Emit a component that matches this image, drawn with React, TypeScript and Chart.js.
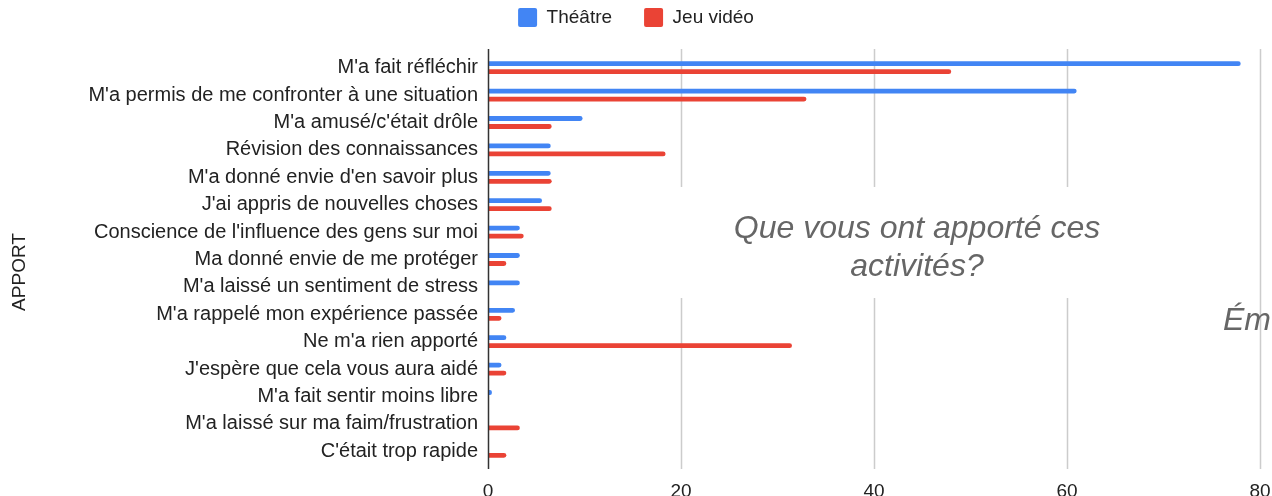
import React, { useEffect, useRef } from "react";
import { Chart, registerables } from "chart.js";

Chart.register(...registerables);

const categories = [
  "M'a fait réfléchir",
  "M'a permis de me confronter à une situation",
  "M'a amusé/c'était drôle",
  "Révision des connaissances",
  "M'a donné envie d'en savoir plus",
  "J'ai appris de nouvelles choses",
  "Conscience de l'influence des gens sur moi",
  "Ma donné envie de me protéger",
  "M'a laissé un sentiment de stress",
  "M'a rappelé mon expérience passée",
  "Ne m'a rien apporté",
  "J'espère que cela vous aura aidé",
  "M'a fait sentir moins libre",
  "M'a laissé sur ma faim/frustration",
  "C'était trop rapide",
];

const theatreValues = [78, 61, 9.8, 6.5, 6.5, 5.6, 3.3, 3.3, 3.3, 2.8, 1.9, 1.4, 0.4, 0, 0];
const jeuVideoValues = [48, 33, 6.6, 18.4, 6.6, 6.6, 3.7, 1.9, 0, 1.4, 31.5, 1.9, 0, 3.3, 1.9];

const seriesNames = ["Théâtre", "Jeu vidéo"];
const xTickValues = [0, 20, 40, 60, 80];
const yAxisTitle = "APPORT";
const overlayTitleLines = ["Que vous ont apporté ces", "activités?"];
const clippedTitle = "Émotions ressenties";

const FONT = "'Liberation Sans', Arial, Helvetica, sans-serif";
const TEXT = "#222222";

const decorPlugin = {
  id: "decor",
  beforeDatasetsDraw(chart: any) {
    const { ctx, chartArea, scales } = chart;
    const x = scales.x;
    const top = chartArea.top - 5;
    const bottom = chartArea.bottom + 4;
    ctx.save();
    ctx.strokeStyle = "#cccccc";
    ctx.lineWidth = 1.5;
    xTickValues.slice(1).forEach((v) => {
      const px = Math.round(x.getPixelForValue(v)) + 0.5;
      ctx.beginPath();
      ctx.moveTo(px, top);
      ctx.lineTo(px, bottom);
      ctx.stroke();
    });
    // white box behind the overlay title
    ctx.fillStyle = "#ffffff";
    ctx.fillRect(655, 187, 500, 111);
    ctx.restore();
  },
  afterDatasetsDraw(chart: any) {
    const { ctx, chartArea, scales } = chart;
    const x0 = Math.round(scales.x.getPixelForValue(0)) + 0.5;
    ctx.save();
    ctx.strokeStyle = "#333333";
    ctx.lineWidth = 1.5;
    ctx.beginPath();
    ctx.moveTo(x0, chartArea.top - 5);
    ctx.lineTo(x0, chartArea.bottom + 4);
    ctx.stroke();

    // y axis title
    ctx.fillStyle = TEXT;
    ctx.font = `19px ${FONT}`;
    ctx.textAlign = "center";
    ctx.textBaseline = "middle";
    ctx.translate(20, 272);
    ctx.rotate(-Math.PI / 2);
    ctx.fillText(yAxisTitle, 0, 0);
    ctx.restore();

    // overlay titles
    ctx.save();
    ctx.fillStyle = "#666666";
    ctx.font = `italic 32px ${FONT}`;
    ctx.textAlign = "center";
    ctx.textBaseline = "alphabetic";
    ctx.fillText(overlayTitleLines[0], 917, 238);
    ctx.fillText(overlayTitleLines[1], 917, 276);
    ctx.textAlign = "left";
    ctx.fillText(clippedTitle, 1223, 330);
    ctx.restore();
  },
};

export default function App() {
  const canvasRef = useRef<HTMLCanvasElement | null>(null);

  useEffect(() => {
    if (!canvasRef.current) return;
    Chart.defaults.font.family = FONT;
    const chart = new Chart(canvasRef.current, {
      type: "bar",
      data: {
        labels: categories,
        datasets: [
          {
            label: seriesNames[0],
            data: theatreValues,
            backgroundColor: "#4285f4",
            borderRadius: 3,
            categoryPercentage: 0.583,
            barPercentage: 0.6,
          },
          {
            label: seriesNames[1],
            data: jeuVideoValues,
            backgroundColor: "#ea4335",
            borderRadius: 3,
            categoryPercentage: 0.583,
            barPercentage: 0.6,
          },
        ],
      },
      options: {
        indexAxis: "y",
        responsive: false,
        maintainAspectRatio: false,
        animation: false,
        layout: { padding: { top: -24, right: 0, left: 0, bottom: 0 } },
        plugins: {
          legend: {
            position: "top",
            labels: {
              boxWidth: 19,
              boxHeight: 19,
              padding: 32,
              color: TEXT,
              useBorderRadius: true,
              borderRadius: 2,
              font: { size: 19, family: FONT },
            },
          },
          tooltip: { enabled: false },
        },
        scales: {
          x: {
            type: "linear",
            position: "bottom",
            min: 0,
            max: 80,
            grid: { display: false, drawTicks: false },
            border: { display: false },
            ticks: {
              stepSize: 20,
              padding: 15,
              color: TEXT,
              font: { size: 19, family: FONT },
            },
            afterFit(scale: any) {
              scale.height = 31;
              scale.paddingRight = 12;
            },
          },
          xTop: {
            type: "linear",
            axis: "x",
            position: "top",
            display: true,
            grid: { display: false, drawTicks: false },
            border: { display: false },
            ticks: { display: false },
            afterFit(scale: any) {
              scale.height = 17;
              scale.paddingRight = 0;
              scale.paddingLeft = 0;
            },
          },
          y: {
            type: "category",
            grid: { display: false, drawTicks: false },
            border: { display: false },
            ticks: {
              padding: 10,
              color: TEXT,
              font: { size: 20, family: FONT },
              autoSkip: false,
            },
            afterFit(scale: any) {
              scale.width = 488;
            },
          },
        },
      },
      plugins: [decorPlugin],
    } as any);
    return () => chart.destroy();
  }, []);

  return (
    <div
      style={{
        position: "fixed",
        left: 0,
        top: 0,
        width: 1272,
        height: 496,
        overflow: "hidden",
        background: "#ffffff",
      }}
    >
      <canvas ref={canvasRef} width={1272} height={496} style={{ display: "block" }} />
    </div>
  );
}
